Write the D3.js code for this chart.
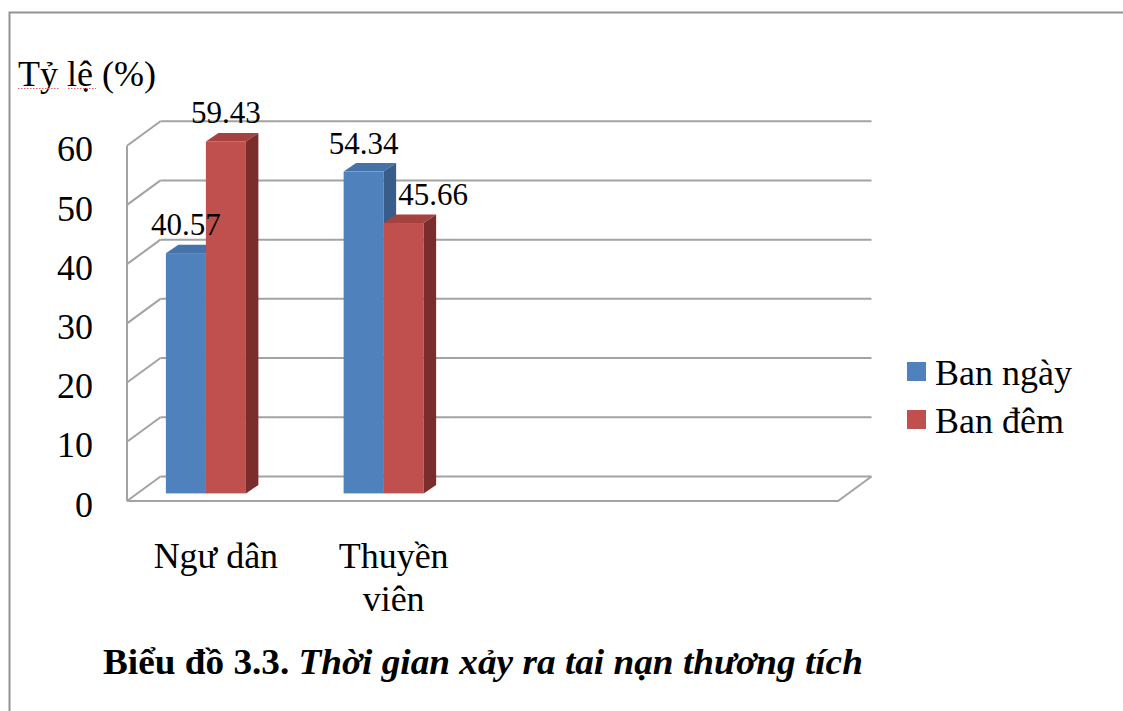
<!DOCTYPE html>
<html>
<head>
<meta charset="utf-8">
<script src="https://cdn.jsdelivr.net/npm/d3@7"></script>
<style>
  html, body { margin: 0; padding: 0; background: #fff; }
  svg { display: block; font-family: "Liberation Serif", "Times New Roman", serif; }
  text { font-family: "Liberation Serif", "Times New Roman", serif; fill: #000; }
</style>
</head>
<body>
<svg id="chart" width="1123" height="711"></svg>
<script>
// ---- data ----
const categories = ["Ngư dân", "Thuyền viên"];
const seriesNames = ["Ban ngày", "Ban đêm"];
const banNgay = [40.57, 54.34];
const banDem = [59.43, 45.66];
const yTicks = [0, 10, 20, 30, 40, 50, 60];
const yTitle = "Tỷ lệ (%)";
const titleBold = "Biểu đồ 3.3. ";
const titleItalic = "Thời gian xảy ra tai nạn thương tích";

const seriesValues = [banNgay, banDem];
const colors = [
  { front: "#4F81BD", top: "#4572A8", side: "#385D8A" },
  { front: "#C0504D", top: "#A5423F", side: "#7B2D2B" }
];
const SERIF = "'Liberation Serif', 'Times New Roman', serif";

const svg = d3.select("#chart");

// frame
svg.append("path")
  .attr("d", "M9.5,711 L9.5,12.5 L1123,12.5")
  .attr("fill", "none").attr("stroke", "#939393").attr("stroke-width", 2);

// geometry
const frontLeft = 127, frontRight = 838;
const DX = 33.5, DY = -24.5;          // depth of the plot box
const barF = 0.31;                    // depth position of bars
const bDX = 12.5, bDY = -8.5;         // depth of each bar
const slotCount = 4;

const y = d3.scaleLinear().domain([0, 60]).range([501, 145.7]);
const x = d3.scaleBand().domain(d3.range(slotCount)).range([frontLeft, frontRight]);
const xs = d3.scaleBand().domain(d3.range(seriesNames.length)).range([0, 80]);

const grid = svg.append("g").attr("fill", "none").attr("stroke", "#A3A3A3").attr("stroke-width", 2);
yTicks.forEach(v => {
  grid.append("line")
    .attr("x1", frontLeft + DX).attr("x2", frontRight + DX)
    .attr("y1", y(v) + DY).attr("y2", y(v) + DY);
  grid.append("line")
    .attr("x1", frontLeft).attr("y1", y(v))
    .attr("x2", frontLeft + DX).attr("y2", y(v) + DY);
});
grid.append("line")
  .attr("x1", frontLeft).attr("x2", frontLeft)
  .attr("y1", y(60)).attr("y2", y(0));
grid.append("path")
  .attr("d", `M${frontLeft},${y(0)} L${frontRight},${y(0)} L${frontRight + DX},${y(0) + DY}`);

// y axis labels
const yAxis = d3.axisLeft(y).tickValues(yTicks).tickSize(0).tickPadding(0);
const yg = svg.append("g").attr("transform", "translate(93,0)").call(yAxis)
  .attr("font-family", null).attr("font-size", null);
yg.select(".domain").remove();
yg.selectAll("text")
  .style("font-family", SERIF)
  .style("font-size", "36px")
  .attr("fill", "#000")
  .attr("dy", "0.42em");

// y title
svg.append("text").attr("x", 18).attr("y", 86).style("font-size", "36px").style("font-family", SERIF).text(yTitle);
svg.append("g").attr("stroke", "#E06666").attr("stroke-width", 1).attr("stroke-dasharray", "1.5,1.5")
  .selectAll("line").data([[18, 59], [68, 96]]).join("line")
  .attr("x1", d => d[0]).attr("x2", d => d[1]).attr("y1", 88.5).attr("y2", 88.5);

// bars
const bars = svg.append("g");
const barInfo = [];
categories.forEach((cat, i) => {
  const center = x(i) + x.bandwidth() / 2 - 10;
  const left0 = center - 40;
  seriesValues.forEach((vals, s) => {
    const v = vals[i];
    const x0 = left0 + xs(s), x1 = x0 + xs.bandwidth();
    const yb = y(0) + barF * DY, yt = y(v) + barF * DY;
    const c = colors[s];
    bars.append("rect").attr("x", x0).attr("y", yt).attr("width", x1 - x0).attr("height", yb - yt)
      .attr("fill", c.front);
    bars.append("path")
      .attr("d", `M${x0},${yt} L${x0 + bDX},${yt + bDY} L${x1 + bDX},${yt + bDY} L${x1},${yt} Z`)
      .attr("fill", c.top);
    bars.append("path")
      .attr("d", `M${x1},${yt} L${x1 + bDX},${yt + bDY} L${x1 + bDX},${yb + bDY} L${x1},${yb} Z`)
      .attr("fill", c.side);
    barInfo.push({ i, s, v, x0, x1, yt });
  });
});

// data labels
const labels = svg.append("g");
barInfo.forEach(b => {
  const prev = barInfo.find(p => p.i === b.i && p.s === b.s - 1);
  const t = labels.append("text").attr("y", b.yt - 18)
    .style("font-size", "31px").style("font-family", SERIF).text(b.v.toFixed(2));
  if (prev && prev.v > b.v) {
    t.attr("x", prev.x1 + bDX + 2).attr("text-anchor", "start");
  } else {
    t.attr("x", (b.x0 + b.x1) / 2).attr("text-anchor", "middle");
  }
});

// category labels
const xAxis = d3.axisBottom(x).tickValues(d3.range(categories.length))
  .tickFormat(i => categories[i]).tickSize(0).tickPadding(0);
const xg = svg.append("g").attr("transform", `translate(0,${y(0)})`).call(xAxis)
  .attr("font-family", null).attr("font-size", null);
xg.select(".domain").remove();
xg.selectAll("text")
  .style("font-family", SERIF)
  .style("font-size", "36px")
  .attr("fill", "#000")
  .attr("dy", null)
  .attr("y", 67)
  .each(function () {
    const el = d3.select(this);
    const words = el.text().split(/\s+/);
    const maxW = x.bandwidth() * 0.9;
    el.text(null);
    let line = [];
    let tspan = el.append("tspan").attr("x", 0).attr("dy", 0);
    words.forEach(w => {
      line.push(w);
      tspan.text(line.join(" "));
      if (tspan.node().getComputedTextLength() > maxW && line.length > 1) {
        line.pop();
        tspan.text(line.join(" "));
        line = [w];
        tspan = el.append("tspan").attr("x", 0).attr("dy", 43).text(w);
      }
    });
  });

// legend
const leg = svg.append("g");
seriesNames.forEach((name, s) => {
  leg.append("rect").attr("x", 907).attr("y", 362 + s * 48).attr("width", 19).attr("height", 19)
    .attr("fill", colors[s].front);
  leg.append("text").attr("x", 935).attr("y", 384.5 + s * 48)
    .style("font-size", "36px").style("font-family", SERIF).text(name);
});

// caption
const cap = svg.append("text").attr("transform", "translate(103,674) scale(1.035,1)")
  .style("font-size", "36px").style("font-family", SERIF).attr("font-weight", "bold");
cap.append("tspan").text(titleBold);
cap.append("tspan").attr("font-style", "italic").text(titleItalic);
</script>
</body>
</html>
